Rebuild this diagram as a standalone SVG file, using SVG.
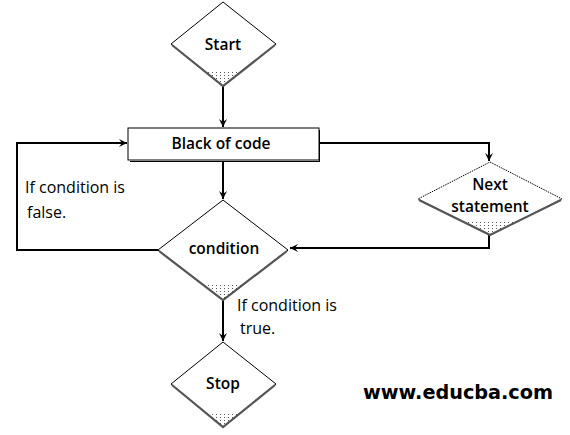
<svg xmlns="http://www.w3.org/2000/svg" width="570" height="435" viewBox="0 0 570 435">
<style>
.shape{fill:#fff;stroke:#000;stroke-width:1}
.shadow{fill:none;stroke:#555;stroke-width:2.2}
.lbl{font-family:"Open Sans","Liberation Sans",sans-serif;font-size:15.5px;font-weight:600;fill:#000;text-anchor:middle;dominant-baseline:central}
.note{font-family:"Open Sans","Liberation Sans",sans-serif;font-size:16px;fill:#000;dominant-baseline:central}
.conn{fill:none;stroke:#000;stroke-width:2}
.dots{fill:url(#dotp)}
</style>
<defs>
<marker id="arr" markerWidth="10" markerHeight="10" refX="9" refY="5" orient="auto" markerUnits="userSpaceOnUse">
<path d="M1,1 L9,5 L1,9 L4,5 Z" fill="#000"/>
</marker>
<pattern id="dotp" width="4" height="3" patternUnits="userSpaceOnUse">
<rect width="1" height="1" fill="#555"/>
</pattern>
</defs>
<g id="connectors">
<line class="conn" x1="223" y1="86" x2="223" y2="127" marker-end="url(#arr)"/>
<line class="conn" x1="223" y1="161" x2="223" y2="199" marker-end="url(#arr)"/>
<line class="conn" x1="223" y1="300" x2="223" y2="341" marker-end="url(#arr)"/>
<polyline class="conn" points="319,143 489,143 489,161" marker-end="url(#arr)"/>
<polyline class="conn" points="489,235 489,248 290,248" marker-end="url(#arr)"/>
<polyline class="conn" points="158,250 17,250 17,143 127,143" marker-end="url(#arr)"/>
</g>
<g id="start">
<polygon class="shape" points="223,2 276,44 223,86 171,44"/>
<polygon class="dots" points="205,72 241,72 223,86"/>
<polyline class="shadow" points="172,45 223,86 275,45"/>
<text class="lbl" x="223" y="44">Start</text>
</g>
<g id="block">
<rect class="shape" x="128" y="128" width="191" height="32"/>
<line x1="130" y1="161.5" x2="320" y2="161.5" stroke="#000" stroke-width="1"/>
<line x1="319.5" y1="130" x2="319.5" y2="162" stroke="#000" stroke-width="1"/>
<text class="lbl" x="221" y="143">Black of code</text>
</g>
<g id="condition">
<polygon class="shape" points="223,200 288,250 223,300 158,250"/>
<polygon class="dots" points="201,283 245,283 223,300"/>
<polyline class="shadow" points="159,251 223,300 287,251"/>
<text class="lbl" x="224" y="248">condition</text>
</g>
<g id="next">
<polygon points="490,162 562,199 490,235 418,199" fill="#fff" stroke="#000" stroke-width="1" stroke-dasharray="1.5,1"/>
<polygon class="dots" points="462,221 518,221 490,235"/>
<polyline class="shadow" points="419,200 490,235 561,200"/>
<text class="lbl" x="490" y="184">Next</text>
<text class="lbl" x="490" y="206">statement</text>
</g>
<g id="stop">
<polygon class="shape" points="223,342 276,384 223,427 171,384"/>
<polygon class="dots" points="205,413 241,413 223,427"/>
<polyline class="shadow" points="172,385 223,427 275,385"/>
<text class="lbl" x="223" y="383">Stop</text>
</g>
<g id="notes">
<text class="note" x="25" y="187">If condition is</text>
<text class="note" x="27" y="212">false.</text>
<text class="note" x="237" y="305">If condition is</text>
<text class="note" x="240" y="328">true.</text>
</g>
<text x="363" y="392" font-family="'DejaVu Sans',Verdana,sans-serif" font-size="19" font-weight="bold" dominant-baseline="central" textLength="190" lengthAdjust="spacingAndGlyphs">www.educba.com</text>
</svg>
